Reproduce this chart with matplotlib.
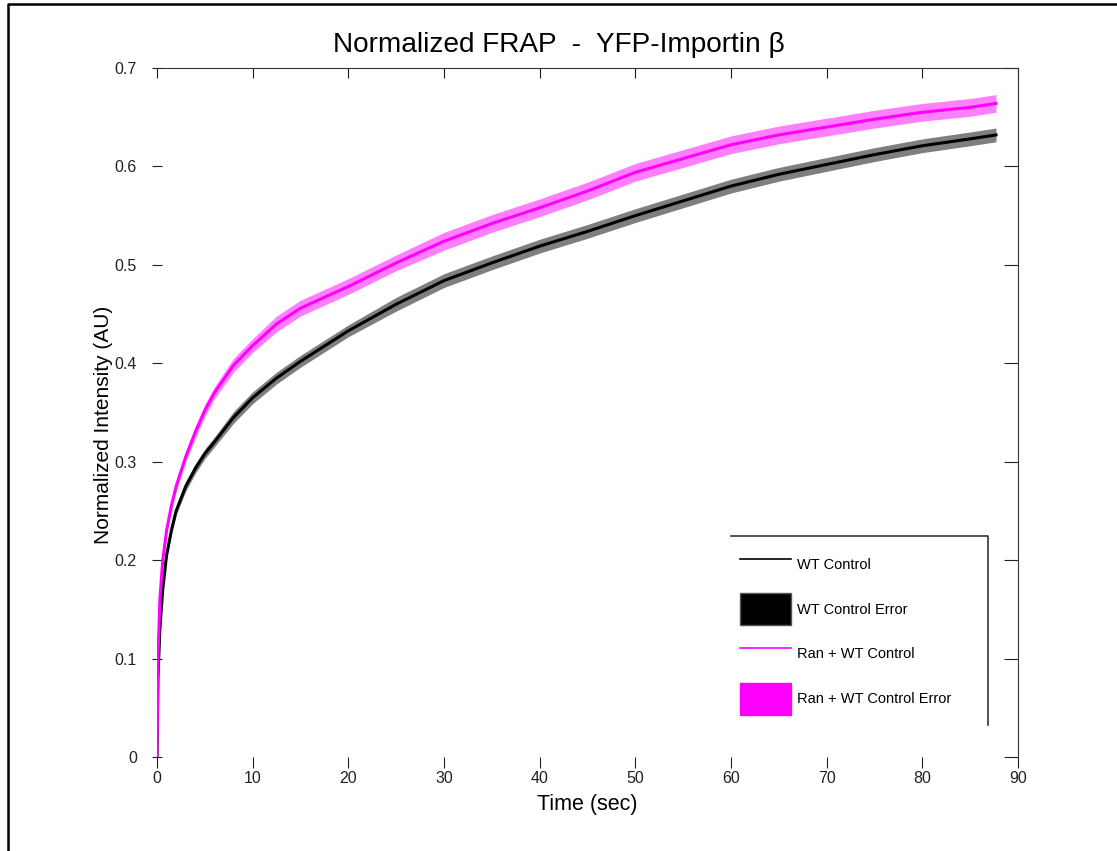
import numpy as np
import matplotlib
matplotlib.use('Agg')
import matplotlib.pyplot as plt
from matplotlib.lines import Line2D
from matplotlib.patches import Patch

plt.rcParams['font.family'] = ['Liberation Sans', 'DejaVu Sans']

# values (time in sec, normalized intensity)
time_sec = [0, 0.1, 0.3, 0.6, 1, 1.5, 2, 3, 4, 5, 6, 8, 10, 12.5, 15, 20, 25, 30,
            35, 40, 45, 50, 55, 60, 65, 70, 75, 80, 85, 87.7]
wt_control = [0, 0.08, 0.13, 0.17, 0.205, 0.23, 0.25, 0.275, 0.293, 0.308, 0.32,
              0.345, 0.365, 0.385, 0.402, 0.433, 0.46, 0.484, 0.502, 0.519, 0.534,
              0.55, 0.565, 0.58, 0.592, 0.602, 0.612, 0.621, 0.628, 0.632]
ran_wt_control = [0, 0.10, 0.16, 0.2, 0.23, 0.255, 0.275, 0.305, 0.33, 0.352, 0.37,
                  0.398, 0.418, 0.44, 0.456, 0.478, 0.502, 0.524, 0.542, 0.558, 0.575,
                  0.594, 0.608, 0.622, 0.632, 0.64, 0.648, 0.655, 0.66, 0.664]
wt_error = [0, 0.002, 0.003, 0.003, 0.004, 0.004, 0.004, 0.005, 0.005, 0.005, 0.005,
            0.006, 0.006, 0.006, 0.006, 0.006, 0.007, 0.007, 0.007, 0.007, 0.007,
            0.007, 0.007, 0.007, 0.007, 0.007, 0.007, 0.007, 0.007, 0.007]
ran_error = [0, 0.002, 0.003, 0.003, 0.004, 0.004, 0.005, 0.005, 0.006, 0.006, 0.006,
             0.007, 0.007, 0.008, 0.008, 0.008, 0.008, 0.009, 0.009, 0.009, 0.009,
             0.009, 0.009, 0.009, 0.009, 0.009, 0.009, 0.009, 0.009, 0.009]

t = np.array(time_sec)
wt = np.array(wt_control)
ran = np.array(ran_wt_control)
wt_err = np.array(wt_error)
ran_err = np.array(ran_error)

W, H = 1117, 851
fig = plt.figure(figsize=(W / 100, H / 100), dpi=100)
ax = fig.add_axes([157 / W, 1 - 757 / H, (1018 - 157) / W, (757 - 68) / H])

ax.fill_between(t, wt - wt_err, wt + wt_err, color='#7f7f7f', lw=0)
ax.plot(t, wt, color='black', lw=2.2)
ax.fill_between(t, ran - ran_err, ran + ran_err, color='#ff80ff', lw=0)
ax.plot(t, ran, color='#ff00ff', lw=2.2)

ax.set_xlim(0, 90)
ax.set_ylim(0, 0.7)
ax.set_xticks(np.arange(0, 91, 10))
ax.set_yticks(np.arange(0, 0.71, 0.1))
ax.set_yticklabels(['0', '0.1', '0.2', '0.3', '0.4', '0.5', '0.6', '0.7'])

ax.spines['left'].set_visible(False)
ax.spines['bottom'].set_visible(False)
ax.spines['top'].set_color('#333333')
ax.spines['right'].set_color('#333333')
ax.tick_params(axis='both', labelsize=11.5, colors='#222222')
ax.tick_params(axis='x', direction='out', length=8, pad=2, top=True)
ax.tick_params(axis='y', direction='inout', length=7, pad=11, right=True)
# top and right ticks point inward, like the reference
for tk in ax.xaxis.get_major_ticks():
    tk.tick2line.set_marker(3)
    tk.tick2line.set_markersize(7)
for tk in ax.yaxis.get_major_ticks():
    tk.tick2line.set_marker(0)
    tk.tick2line.set_markersize(10)

ax.set_xlabel('Time (sec)', fontsize=15.5, labelpad=6)
ax.set_ylabel('Normalized Intensity (AU)', fontsize=15)
ax.yaxis.set_label_coords(-(157 - 113) / 861, (757 - 425) / 689)
fig.text(0.5, 1 - 45 / H, 'Normalized FRAP  -  YFP-Importin β', fontsize=20.2,
         ha='center', va='center')

handles = [Line2D([], [], color='black', lw=1.2),
           Patch(facecolor='black', edgecolor='#555555'),
           Line2D([], [], color='#ff00ff', lw=1.2),
           Patch(facecolor='#ff00ff', edgecolor='#ff00ff')]
labels = ['WT Control', 'WT Control Error', 'Ran + WT Control', 'Ran + WT Control Error']
ax.legend(handles, labels, loc='upper left',
          bbox_to_anchor=((728 - 157) / (1018 - 157), (757 - 537) / (757 - 68)),
          frameon=False, fontsize=10.5, handlelength=3.55, handleheight=3.0,
          labelspacing=0.87, handletextpad=0.35, borderpad=0.3)

# legend box (only top and right edges show in the reference) and figure border
fig.add_artist(Line2D([731 / W, 988 / W, 988 / W], [1 - 536 / H, 1 - 536 / H, 1 - 725 / H],
                      transform=fig.transFigure, color='#333333', lw=1.2))
fig.add_artist(Line2D([8 / W, 8 / W, 1.0], [0.0, 1 - 4 / H, 1 - 4 / H],
                      transform=fig.transFigure, color='black', lw=1.8))

fig.savefig('out.png', dpi=100)
